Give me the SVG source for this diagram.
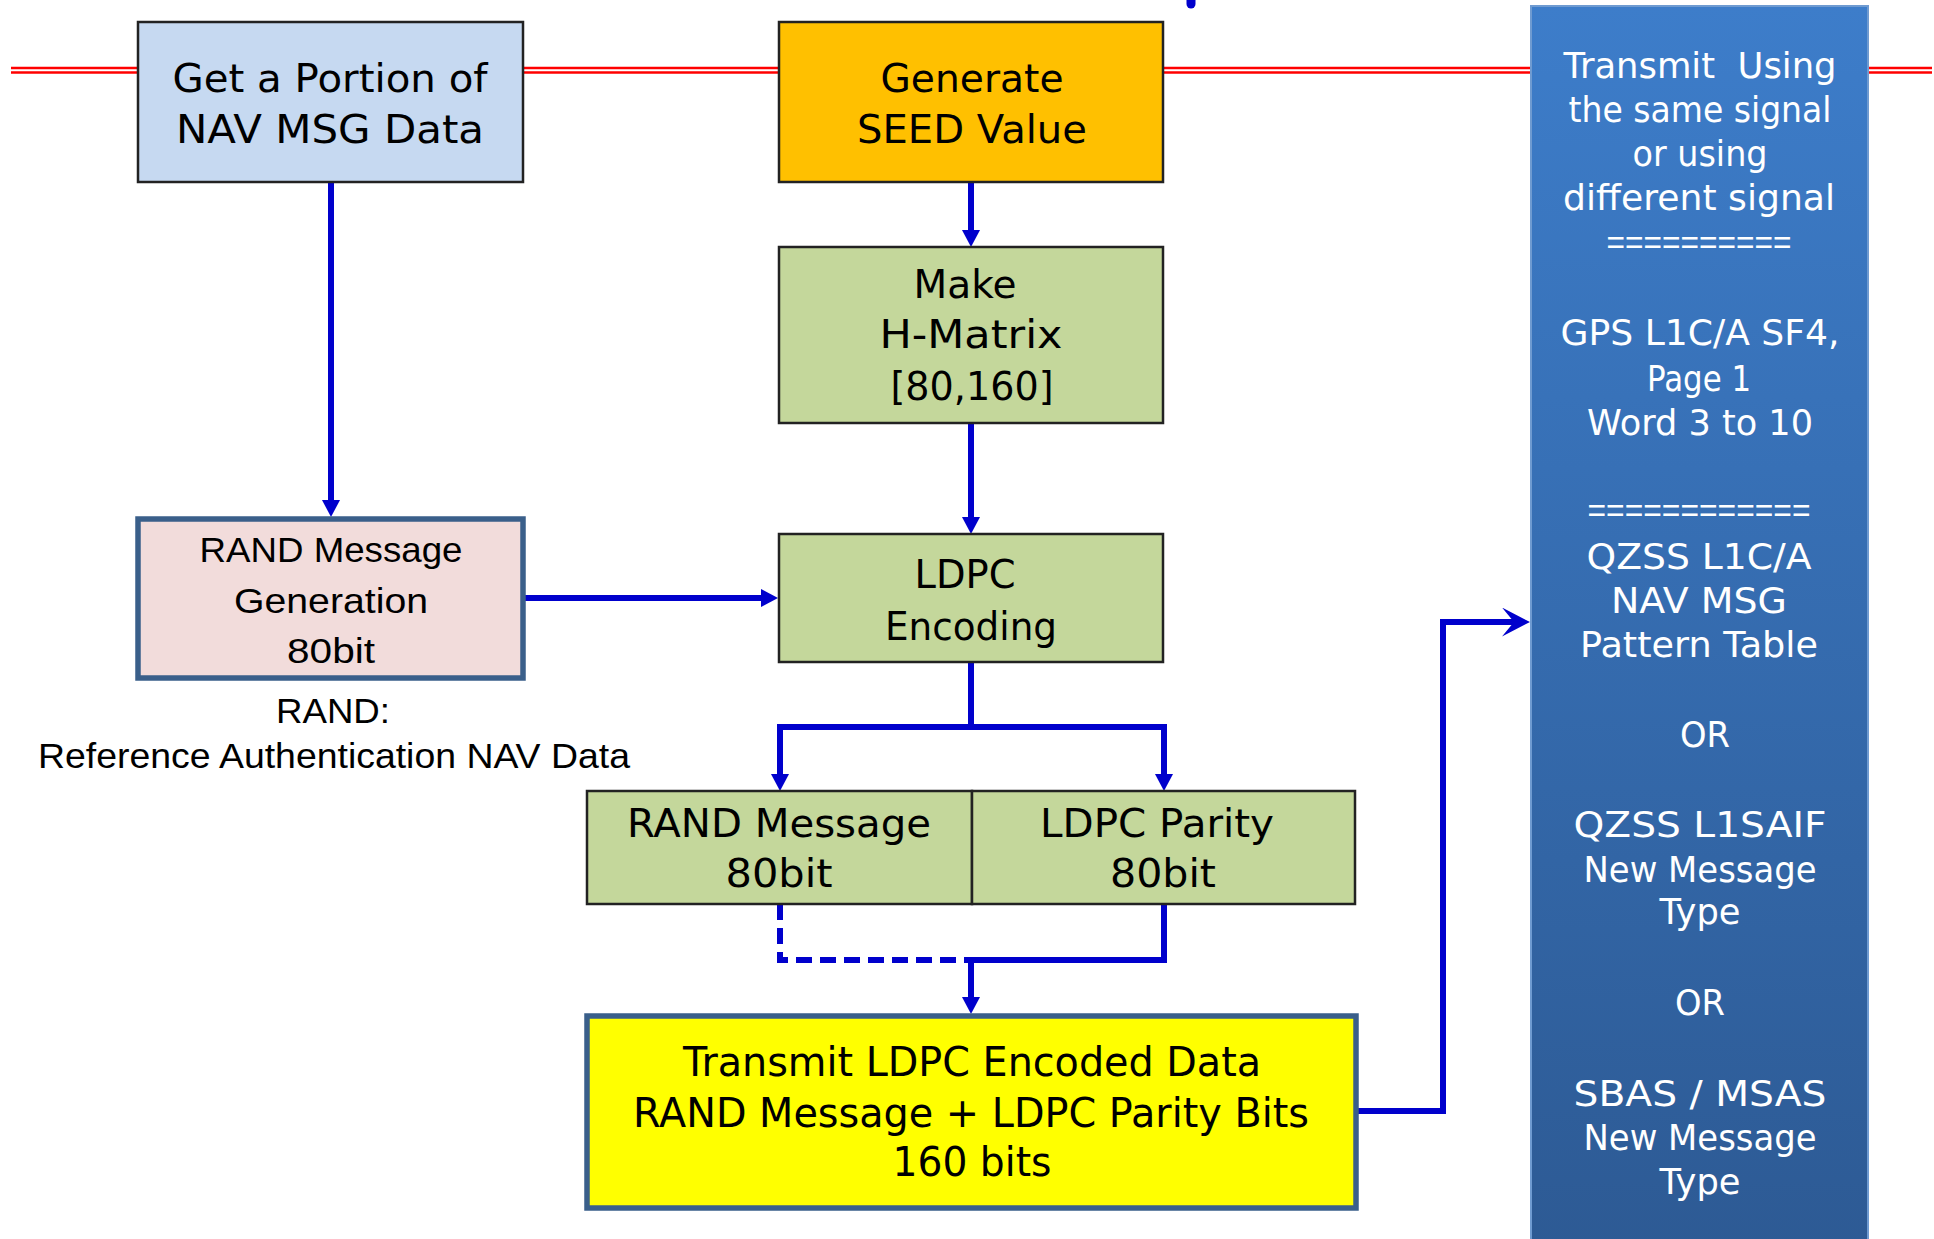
<svg xmlns="http://www.w3.org/2000/svg" width="1934" height="1239" viewBox="0 0 1934 1239">
<style>
.box{stroke:#222;stroke-width:2.5}
.thick{stroke:#3a5f8a;stroke-width:5.5}
.t{font-family:"DejaVu Sans","Liberation Sans",sans-serif;font-size:39px;fill:#000;text-anchor:middle}
.ty{font-size:40px}
.c{font-family:"Liberation Sans",Arial,sans-serif;font-size:35px;fill:#000;text-anchor:middle}
.p{font-family:"DejaVu Sans","Liberation Sans",sans-serif;font-size:36px;fill:#fff;text-anchor:middle}
.eq{font-family:"Liberation Sans",Arial,sans-serif;font-size:34px}
.pre{white-space:pre}
.con{fill:none;stroke:#0000cc;stroke-width:6}
</style>
<defs>
<marker id="arr" markerUnits="userSpaceOnUse" markerWidth="17" markerHeight="18" refX="8" refY="9" orient="auto" viewBox="0 0 17 18">
<path d="M0,0 L17,9 L0,18 z" fill="#0000cc"/>
</marker>
<marker id="stealth" markerUnits="userSpaceOnUse" markerWidth="28" markerHeight="29" refX="16" refY="14.5" orient="auto" viewBox="0 0 28 29">
<path d="M0,0 L28,14.5 L0,29 L12,14.5 z" fill="#0000cc"/>
</marker>
<linearGradient id="pg" x1="0" y1="0" x2="0" y2="1">
<stop offset="0" stop-color="#3d7dca"/>
<stop offset="1" stop-color="#2d5a94"/>
</linearGradient>
</defs>
<rect width="1934" height="1239" fill="#fff"/>
<g id="redline">
<line x1="11" y1="70.3" x2="1932" y2="70.3" stroke="#ff0000" stroke-width="7"/>
<line x1="11" y1="70.3" x2="1932" y2="70.3" stroke="#fff" stroke-width="2"/>
</g>
<line x1="1191" y1="0" x2="1191" y2="4" stroke="#0000cc" stroke-width="9" stroke-linecap="round"/>
<g id="connectors">
<path class="con" d="M331,183 V508" marker-end="url(#arr)"/>
<path class="con" d="M971,183 V238" marker-end="url(#arr)"/>
<path class="con" d="M971,423 V525" marker-end="url(#arr)"/>
<path class="con" d="M524,598 H769" marker-end="url(#arr)"/>
<path class="con" d="M971,662 V727 H780 V782" marker-end="url(#arr)"/>
<path class="con" d="M971,727 H1164 V782" marker-end="url(#arr)"/>
<path class="con" d="M780,904 V960 H971" stroke-dasharray="16 8"/>
<path class="con" d="M1164,904 V960 H971 V1005" marker-end="url(#arr)"/>
<path class="con" d="M1357,1111 H1443 V622 H1518" marker-end="url(#stealth)"/>
</g>
<g id="get-portion">
<rect class="box" x="138" y="22" width="385" height="160" fill="#c6d9f1"/>
<text class="t" x="330" y="92" textLength="315" lengthAdjust="spacingAndGlyphs">Get a Portion of</text>
<text class="t" x="330" y="143" textLength="308" lengthAdjust="spacingAndGlyphs">NAV MSG Data</text>
</g>
<g id="generate-seed">
<rect class="box" x="779" y="22" width="384" height="160" fill="#ffc000"/>
<text class="t" x="972" y="92" textLength="183" lengthAdjust="spacingAndGlyphs">Generate</text>
<text class="t" x="972" y="143" textLength="230" lengthAdjust="spacingAndGlyphs">SEED Value</text>
</g>
<g id="make-hmatrix">
<rect class="box" x="779" y="247" width="384" height="176" fill="#c4d79b"/>
<text class="t" x="965" y="298" textLength="103" lengthAdjust="spacingAndGlyphs">Make</text>
<text class="t" x="971" y="348" textLength="183" lengthAdjust="spacingAndGlyphs">H-Matrix</text>
<text class="t" x="972" y="400" textLength="163" lengthAdjust="spacingAndGlyphs">[80,160]</text>
</g>
<g id="ldpc-encoding">
<rect class="box" x="779" y="534" width="384" height="128" fill="#c4d79b"/>
<text class="t" x="965" y="588" textLength="101" lengthAdjust="spacingAndGlyphs">LDPC</text>
<text class="t" x="971" y="640" textLength="172" lengthAdjust="spacingAndGlyphs">Encoding</text>
</g>
<g id="rand-generation">
<rect class="thick" x="138" y="519" width="385" height="159" fill="#f2dcdb"/>
<text class="c" x="331" y="562" textLength="263" lengthAdjust="spacingAndGlyphs">RAND Message</text>
<text class="c" x="331" y="613" textLength="194" lengthAdjust="spacingAndGlyphs">Generation</text>
<text class="c" x="331" y="663" textLength="88" lengthAdjust="spacingAndGlyphs">80bit</text>
</g>
<g id="rand-note">
<text class="c" x="333" y="723" textLength="114" lengthAdjust="spacingAndGlyphs">RAND:</text>
<text class="c" x="334" y="768" textLength="592" lengthAdjust="spacingAndGlyphs">Reference Authentication NAV Data</text>
</g>
<g id="rand-message">
<rect class="box" x="587" y="791" width="385" height="113" fill="#c4d79b"/>
<text class="t" x="779" y="837" textLength="304" lengthAdjust="spacingAndGlyphs">RAND Message</text>
<text class="t" x="779" y="887" textLength="107" lengthAdjust="spacingAndGlyphs">80bit</text>
</g>
<g id="ldpc-parity">
<rect class="box" x="972" y="791" width="383" height="113" fill="#c4d79b"/>
<text class="t" x="1157" y="837" textLength="234" lengthAdjust="spacingAndGlyphs">LDPC Parity</text>
<text class="t" x="1163" y="887" textLength="106" lengthAdjust="spacingAndGlyphs">80bit</text>
</g>
<g id="transmit-ldpc">
<rect class="thick" x="587" y="1016" width="769" height="192" fill="#ffff00"/>
<text class="t ty" x="972" y="1076" textLength="578" lengthAdjust="spacingAndGlyphs">Transmit LDPC Encoded Data</text>
<text class="t ty" x="971" y="1127" textLength="676" lengthAdjust="spacingAndGlyphs">RAND Message + LDPC Parity Bits</text>
<text class="t ty" x="972" y="1176" textLength="159" lengthAdjust="spacingAndGlyphs">160 bits</text>
</g>
<g id="signal-panel">
<rect x="1531" y="6" width="337" height="1245" fill="url(#pg)" stroke="#6f9bd1" stroke-width="2"/>
<text class="p pre" x="1700" y="78" textLength="273" lengthAdjust="spacingAndGlyphs">Transmit  Using</text>
<text class="p" x="1700" y="122" textLength="263" lengthAdjust="spacingAndGlyphs">the same signal</text>
<text class="p" x="1700" y="166" textLength="135" lengthAdjust="spacingAndGlyphs">or using</text>
<text class="p" x="1699" y="210" textLength="272" lengthAdjust="spacingAndGlyphs">different signal</text>
<text class="p eq" x="1699" y="254" textLength="185" lengthAdjust="spacingAndGlyphs">==========</text>
<text class="p" x="1700" y="345" textLength="279" lengthAdjust="spacingAndGlyphs">GPS L1C/A SF4,</text>
<text class="p" x="1699" y="391" textLength="104" lengthAdjust="spacingAndGlyphs">Page 1</text>
<text class="p" x="1700" y="435" textLength="226" lengthAdjust="spacingAndGlyphs">Word 3 to 10</text>
<text class="p eq" x="1699" y="522" textLength="223" lengthAdjust="spacingAndGlyphs">============</text>
<text class="p" x="1699" y="569" textLength="225" lengthAdjust="spacingAndGlyphs">QZSS L1C/A</text>
<text class="p" x="1699" y="613" textLength="176" lengthAdjust="spacingAndGlyphs">NAV MSG</text>
<text class="p" x="1699" y="657" textLength="238" lengthAdjust="spacingAndGlyphs">Pattern Table</text>
<text class="p" x="1705" y="747" textLength="50" lengthAdjust="spacingAndGlyphs">OR</text>
<text class="p" x="1700" y="837" textLength="253" lengthAdjust="spacingAndGlyphs">QZSS L1SAIF</text>
<text class="p" x="1700" y="882" textLength="233" lengthAdjust="spacingAndGlyphs">New Message</text>
<text class="p" x="1700" y="924" textLength="81" lengthAdjust="spacingAndGlyphs">Type</text>
<text class="p" x="1700" y="1015" textLength="50" lengthAdjust="spacingAndGlyphs">OR</text>
<text class="p" x="1700" y="1106" textLength="253" lengthAdjust="spacingAndGlyphs">SBAS / MSAS</text>
<text class="p" x="1700" y="1150" textLength="233" lengthAdjust="spacingAndGlyphs">New Message</text>
<text class="p" x="1700" y="1194" textLength="81" lengthAdjust="spacingAndGlyphs">Type</text>
</g>
</svg>
